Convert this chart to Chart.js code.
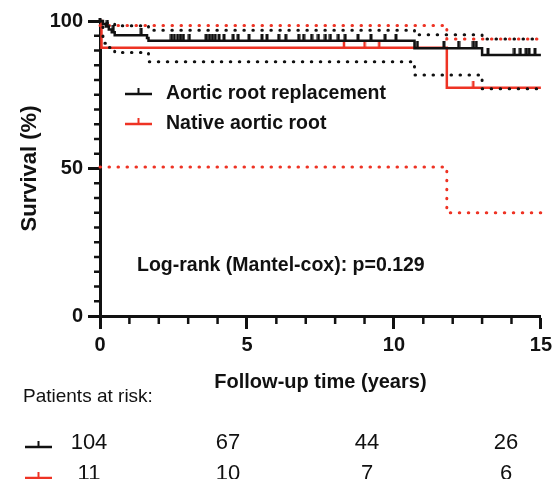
<!DOCTYPE html>
<html>
<head>
<meta charset="utf-8">
<script src="https://cdn.jsdelivr.net/npm/chart.js@4.4.0/dist/chart.umd.min.js"></script>
<style>
  html, body { margin: 0; padding: 0; background: #fff; overflow: hidden; }
</style>
</head>
<body>
<canvas id="km" width="556" height="479"></canvas>
<script>
// groups and Kaplan-Meier steps (time in years, survival in %)
const groups = ['Aortic root replacement', 'Native aortic root'];

const arrTime = [0, 0.1, 0.2, 0.3, 0.4, 0.5, 1.6, 1.65, 10.7, 13.0, 15];
const arrSurv = [100, 99.0, 98.1, 97.1, 96.2, 95.2, 94.2, 93.3, 90.8, 88.5, 88.5];
const arrUpperTime = [0, 0.2, 0.5, 1.65, 10.7, 13.0, 15];
const arrUpper = [100, 99.3, 98.4, 96.9, 95.3, 93.9, 93.9];
const arrLowerTime = [0, 0.1, 0.2, 0.5, 1.65, 10.7, 13.0, 15];
const arrLower = [100, 92.5, 91.0, 89.3, 86.2, 81.7, 77.0, 77.0];
const arrCensored = [0.25, 0.45, 1.4, 2.43, 2.53, 2.64, 2.74, 2.84, 3.04, 3.61, 3.72, 3.82, 3.92,
  4.05, 4.22, 4.53, 4.70, 5.07, 5.51, 5.68, 6.08, 6.32, 6.76, 6.93, 7.20, 7.43, 7.67, 7.84,
  8.11, 8.34, 8.78, 9.22, 9.70, 10.07, 10.8, 11.7, 12.2, 12.7, 12.8, 13.2, 14.1, 14.3, 14.5,
  14.6, 14.8];

const natTime = [0, 0.05, 11.8, 15];
const natSurv = [100, 90.9, 77.4, 77.4];
const natUpperTime = [0, 11.8, 15];
const natUpper = [98.5, 93.9, 93.9];
const natLowerTime = [0, 11.8, 15];
const natLower = [50.5, 35.0, 35.0];
const natCensored = [8.3, 9.0, 9.5, 12.7];

// patients at risk table
const riskTimes = [0, 5, 10, 15];
const riskArr = [104, 67, 44, 26];
const riskNat = [11, 10, 7, 6];

const xTicks = [0, 5, 10, 15];
const yTicks = [0, 50, 100];

const INK = '#111111';
const RED = '#ee3324';
const FONT = "'Liberation Sans', Arial, Helvetica, sans-serif";

const toPts = (ts, vs) => ts.map((t, i) => ({ x: t, y: vs[i] }));

// survival value at time t on a step curve
const survAt = (ts, vs, t) => {
  let v = vs[0];
  ts.forEach((tt, i) => { if (tt <= t) v = vs[i]; });
  return v;
};

// censor mark: short upward tick, drawn as a little canvas
const makeTick = (color, h, w) => {
  const c = document.createElement('canvas');
  c.width = 4; c.height = h * 2;
  const g = c.getContext('2d');
  g.fillStyle = color;
  g.fillRect((4 - w) / 2, 0, w, h);
  return c;
};

const solid = (pts, color) => ({
  type: 'line', data: pts, borderColor: color, borderWidth: 2.5,
  stepped: true, pointRadius: 0, fill: false, clip: false
});
const dotted = (pts, color) => ({
  type: 'line', data: pts, borderColor: color, borderWidth: 3,
  borderDash: [0.5, 8.5], borderCapStyle: 'round',
  stepped: true, pointRadius: 0, fill: false, clip: false
});
const censors = (ts, curveT, curveV, color, w) => ({
  type: 'scatter', showLine: false,
  data: ts.map(t => ({ x: t, y: survAt(curveT, curveV, t) })),
  pointStyle: makeTick(color, 7, w), pointRadius: 4, clip: false
});

const decor = {
  id: 'decor',
  afterDraw(chart) {
    const { ctx, chartArea: a, scales: { x, y } } = chart;
    ctx.save();
    ctx.strokeStyle = INK;
    ctx.lineWidth = 2.5;
    // minor ticks
    for (let v = 5; v < 100; v += 5) {
      if (v % 50 === 0) continue;
      const py = y.getPixelForValue(v);
      ctx.beginPath(); ctx.moveTo(a.left - 6, py); ctx.lineTo(a.left, py); ctx.stroke();
    }
    for (let t = 1; t < 15; t++) {
      if (t % 5 === 0) continue;
      const px = x.getPixelForValue(t);
      ctx.beginPath(); ctx.moveTo(px, a.bottom); ctx.lineTo(px, a.bottom + 8); ctx.stroke();
    }
    // axis runs a little above 100
    ctx.lineWidth = 3;
    ctx.beginPath(); ctx.moveTo(a.left, a.top); ctx.lineTo(a.left, a.top - 3); ctx.stroke();

    const symbol = (x0, yy, color) => {
      ctx.strokeStyle = color;
      ctx.lineWidth = 2.5;
      ctx.beginPath(); ctx.moveTo(x0, yy); ctx.lineTo(x0 + 27, yy); ctx.stroke();
      ctx.lineWidth = 2;
      ctx.beginPath(); ctx.moveTo(x0 + 13.5, yy); ctx.lineTo(x0 + 13.5, yy - 6); ctx.stroke();
    };

    // legend
    ctx.textBaseline = 'middle';
    ctx.textAlign = 'left';
    ctx.fillStyle = INK;
    ctx.font = 'bold 19.5px ' + FONT;
    [INK, RED].forEach((c, i) => {
      const yy = a.top + 73 + i * 30;
      symbol(a.left + 25, yy, c);
      ctx.fillText(groups[i], a.left + 66, yy);
    });

    ctx.font = 'bold 19.5px ' + FONT;
    ctx.fillText('Log-rank (Mantel-cox): p=0.129', a.left + 37, 266);

    // patients at risk
    ctx.font = '19px ' + FONT;
    ctx.fillText('Patients at risk:', 23, 397);
    ctx.font = '22px ' + FONT;
    ctx.textAlign = 'center';
    [[riskArr, INK, 443], [riskNat, RED, 474]].forEach(([vals, c, yy]) => {
      symbol(25, yy + 4, c);
      ctx.fillStyle = INK;
      riskTimes.forEach((t, i) => {
        ctx.fillText(String(vals[i]), a.left - 11 + i * 139, yy);
      });
    });
    ctx.restore();
  }
};

new Chart(document.getElementById('km'), {
  data: {
    datasets: [
      censors(arrCensored, arrTime, arrSurv, INK, 3),
      solid(toPts(arrTime, arrSurv), INK),
      dotted(toPts(arrUpperTime, arrUpper), INK),
      dotted(toPts(arrLowerTime, arrLower), INK),
      censors(natCensored, natTime, natSurv, RED, 2.5),
      solid(toPts(natTime, natSurv), RED),
      dotted(toPts(natUpperTime, natUpper), RED),
      dotted(toPts(natLowerTime, natLower), RED)
    ]
  },
  options: {
    responsive: false,
    animation: false,
    layout: { padding: { top: 21, right: 12, left: 0, bottom: 0 } },
    plugins: { legend: { display: false }, tooltip: { enabled: false } },
    scales: {
      x: {
        type: 'linear', min: 0, max: 15,
        afterFit: s => { s.height = 163; },
        afterBuildTicks: s => { s.ticks = xTicks.map(v => ({ value: v })); },
        border: { display: true, color: INK, width: 3 },
        grid: { drawOnChartArea: false, tickLength: 13, tickWidth: 3, tickColor: INK },
        ticks: { color: INK, padding: 4, font: { family: FONT, size: 20, weight: 'bold' } },
        title: {
          display: true, text: 'Follow-up time (years)', color: INK,
          font: { family: FONT, size: 20, weight: 'bold', lineHeight: 1.2 },
          padding: { top: 0, bottom: 85 }
        }
      },
      y: {
        type: 'linear', min: 0, max: 100,
        afterFit: s => { s.width = 100; },
        afterBuildTicks: s => { s.ticks = yTicks.map(v => ({ value: v })); },
        border: { display: true, color: INK, width: 3 },
        grid: { drawOnChartArea: false, tickLength: 12, tickWidth: 3, tickColor: INK },
        ticks: { color: INK, padding: 5, font: { family: FONT, size: 20, weight: 'bold' } },
        title: {
          display: true, text: 'Survival (%)', color: INK,
          font: { family: FONT, size: 22, weight: 'bold', lineHeight: 1.2 },
          padding: { top: 17, bottom: 0 }
        }
      }
    }
  },
  plugins: [decor]
});
</script>
</body>
</html>
